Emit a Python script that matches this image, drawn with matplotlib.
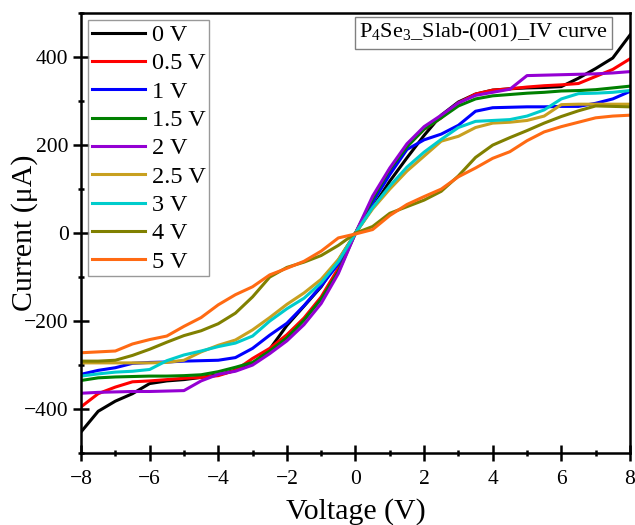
import matplotlib
matplotlib.use("Agg")
import matplotlib.pyplot as plt
from matplotlib.ticker import MultipleLocator

plt.rcParams['font.family'] = ['Liberation Serif', 'DejaVu Serif']
plt.rcParams['mathtext.fontset'] = 'custom'
plt.rcParams['mathtext.rm'] = 'Liberation Serif'

voltage = [-8, -7.5, -7, -6.5, -6, -5.5, -5, -4.5, -4, -3.5, -3, -2.5, -2, -1.5, -1, -0.5, 0,
           0.5, 1, 1.5, 2, 2.5, 3, 3.5, 4, 4.5, 5, 5.5, 6, 6.5, 7, 7.5, 8]

# current (uA) for each gate bias
i_0v = [-452, -405, -382, -365, -342, -336, -333, -328, -322, -312, -298, -264, -210, -166, -122, -62, 0,
        58, 118, 171, 222, 268, 298, 316, 325, 328, 330, 331, 333, 352, 374, 398, 450]
i_05v = [-395, -365, -350, -338, -336, -333, -330, -328, -324, -312, -285, -262, -231, -193, -145, -80, 0,
         70, 141, 198, 236, 262, 296, 316, 325, 328, 332, 335, 337, 340, 356, 372, 396]
i_1v = [-321, -312, -306, -296, -294, -293, -291, -290, -289, -283, -262, -232, -205, -165, -120, -70, 0,
        70, 133, 190, 212, 225, 245, 277, 285, 286, 287, 287, 288, 288, 295, 305, 322]
i_15v = [-335, -329, -327, -326, -325, -325, -324, -322, -315, -305, -294, -268, -238, -198, -150, -88, 0,
         78, 145, 196, 236, 262, 289, 305, 312, 315, 318, 320, 323, 324, 326, 330, 334]
i_2v = [-364, -362, -361, -360, -360, -359, -358, -336, -321, -314, -300, -274, -245, -208, -160, -92, 0,
        84, 148, 203, 242, 268, 296, 313, 320, 327, 358, 359, 360, 361, 362, 364, 367]
i_25v = [-295, -295, -295, -295, -295, -294, -289, -270, -255, -243, -220, -192, -162, -136, -105, -60, 0,
         55, 100, 141, 175, 209, 220, 240, 250, 252, 256, 266, 292, 293, 293, 293, 293]
i_3v = [-325, -320, -316, -314, -310, -290, -277, -268, -258, -250, -234, -200, -172, -148, -113, -65, 0,
        58, 107, 150, 184, 213, 240, 254, 256, 258, 266, 280, 305, 317, 318, 320, 324]
i_4v = [-291, -291, -289, -278, -264, -248, -233, -222, -206, -182, -145, -100, -78, -66, -51, -28, 0,
        15, 45, 60, 75, 95, 130, 172, 200, 217, 233, 250, 265, 278, 289, 288, 287]
i_5v = [-272, -270, -268, -252, -242, -234, -212, -192, -163, -140, -122, -95, -80, -64, -41, -11, -2,
        8, 40, 65, 83, 100, 128, 148, 170, 185, 210, 230, 242, 252, 262, 266, 268]

labels = ['0 V', '0.5 V', '1 V', '1.5 V', '2 V', '2.5 V', '3 V', '4 V', '5 V']
colors = ['#000000', '#ff0000', '#0000ff', '#008000', '#9400d3',
          '#c8a020', '#00cccc', '#808000', '#ff6a13']
curves = [i_0v, i_05v, i_1v, i_15v, i_2v, i_25v, i_3v, i_4v, i_5v]

fig = plt.figure(figsize=(6.35, 5.25), dpi=100)
ax = fig.add_axes([0.1276, 0.137, 0.8644, 0.838])

for cur, lab, col in zip(curves, labels, colors):
    ax.plot(voltage, cur, color=col, lw=2.2, label=lab)

ax.set_xlim(-8, 8)
ax.set_ylim(-500, 500)
ax.xaxis.set_major_locator(MultipleLocator(2))
ax.xaxis.set_minor_locator(MultipleLocator(1))
ax.yaxis.set_major_locator(MultipleLocator(200))
ax.yaxis.set_minor_locator(MultipleLocator(100))
ax.tick_params(which='major', direction='inout', length=11, width=1.8, labelsize=15.5)
ax.tick_params(axis='x', which='major', pad=7)
ax.tick_params(which='minor', direction='inout', length=5, width=1.8)
for sp in ax.spines.values():
    sp.set_linewidth(1.8)

ax.set_xlabel('Voltage (V)', fontsize=21.5, labelpad=6)
ax.set_ylabel('Current (μA)', fontsize=21.5)
ax.yaxis.set_label_coords(-0.078, 0.5)

leg = ax.legend(loc='upper left', fontsize=17.5, frameon=True, fancybox=False,
                edgecolor='#808080', handlelength=2.2, handletextpad=0.25,
                labelspacing=0.26, borderaxespad=0.3, borderpad=0.15)
leg.get_frame().set_linewidth(1.0)

ax.text(0.96, 0.982, r'P$_\mathregular{4}$Se$_\mathregular{3}$_Slab-(001)_IV curve',
        transform=ax.transAxes, ha='right', va='top', fontsize=16,
        bbox=dict(boxstyle='square,pad=0.2', fc='white', ec='#808080', lw=1.0))

plt.savefig('out.png', dpi=100)
